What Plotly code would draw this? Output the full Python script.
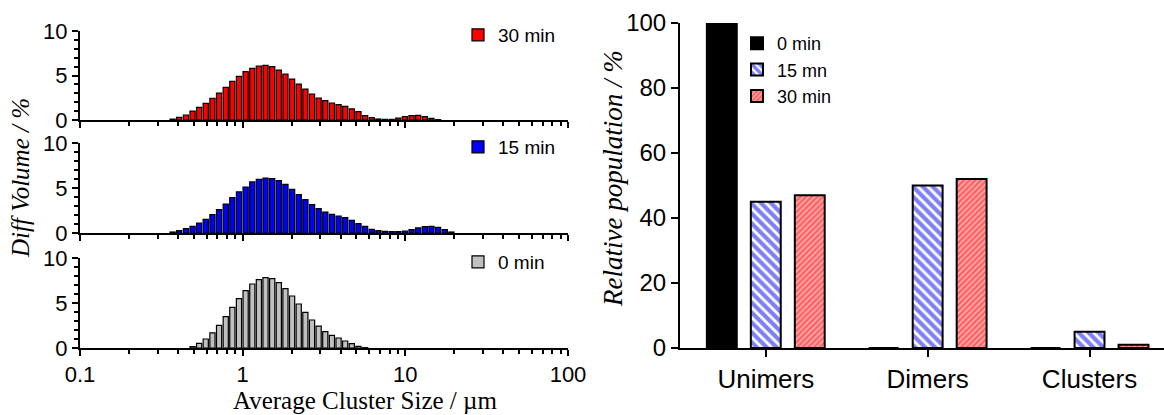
import numpy as np
import plotly.graph_objects as go

# ---------------- data ----------------
# particle-size bin centres (µm), shared by the three size distributions
size_um = [0.371, 0.407, 0.448, 0.492, 0.540, 0.593, 0.652, 0.716, 0.787, 0.864,
           0.949, 1.043, 1.146, 1.258, 1.382, 1.519, 1.668, 1.832, 2.013, 2.211,
           2.429, 2.669, 2.931, 3.220, 3.537, 3.886, 4.268, 4.688, 5.150, 5.657,
           6.214, 6.826, 7.499, 8.237, 9.048, 9.940, 10.92, 11.99, 13.18, 14.47,
           15.90, 17.47, 19.19]

vol_30min = [0.10, 0.30, 0.56, 1.00, 1.42, 1.87, 2.43, 3.03, 3.67, 4.34,
             4.90, 5.43, 5.80, 6.07, 6.14, 6.00, 5.60, 5.17, 4.60, 4.04,
             3.48, 2.92, 2.47, 2.17, 1.91, 1.72, 1.54, 1.24, 0.94, 0.49,
             0.26, 0.11, 0.07, 0.07, 0.22, 0.37, 0.49, 0.52, 0.37, 0.19, 0.04]

vol_15min = [0.11, 0.26, 0.48, 0.74, 1.11, 1.52, 2.04, 2.59, 3.22, 3.93,
             4.56, 5.11, 5.67, 5.96, 6.11, 6.04, 5.81, 5.41, 4.85, 4.26,
             3.70, 3.15, 2.70, 2.33, 2.07, 1.89, 1.70, 1.41, 1.04, 0.74,
             0.41, 0.26, 0.19, 0.15, 0.15, 0.22, 0.37, 0.56, 0.70, 0.74,
             0.63, 0.37, 0.11]

vol_0min_start = 3  # first size bin of the 0 min distribution
vol_0min = [0.15, 0.52, 1.00, 1.67, 2.52, 3.48, 4.52, 5.48, 6.37, 7.11,
            7.59, 7.81, 7.70, 7.26, 6.59, 5.78, 4.89, 3.96, 3.11, 2.44,
            1.81, 1.41, 1.11, 0.78, 0.48, 0.19, 0.04]

categories = ["Unimers", "Dimers", "Clusters"]
pop_0min = [100, 0, 0]
pop_15min = [45, 50, 5]
pop_30min = [47, 52, 1]

size_ticks = [0.1, 1, 10, 100]
size_ticktext = ["0.1", "1", "10", "100"]

# ---------------- figure ----------------
W, H = 1164, 415
SANS = "Arial, Liberation Sans, sans-serif"
SERIF = "Times New Roman, Liberation Serif, serif"

log_size = np.log10(size_um)
bin_step = float(np.mean(np.diff(log_size)))
bar_w = bin_step * 0.78

fig = go.Figure()

left_specs = [
    ("30 min", vol_30min, 0, "#ff0000", "x", "y", "legend"),
    ("15 min", vol_15min, 0, "#0000ff", "x2", "y2", "legend2"),
    ("0 min", vol_0min, vol_0min_start, "#c0c0c0", "x3", "y3", "legend3"),
]
for name, vals, start, col, xa, ya, lg in left_specs:
    xs = log_size[start:start + len(vals)]
    fig.add_trace(go.Bar(
        x=xs, y=vals, width=bar_w, name=name, xaxis=xa, yaxis=ya, legend=lg,
        marker=dict(color=col, line=dict(color="black", width=1.2)),
        showlegend=True,
    ))

fig.add_trace(go.Bar(
    x=categories, y=pop_0min, name="0 min", xaxis="x4", yaxis="y4", legend="legend4",
    marker=dict(color="black", line=dict(color="black", width=2)),
))
fig.add_trace(go.Bar(
    x=categories, y=pop_15min, name="15 mn", xaxis="x4", yaxis="y4", legend="legend4",
    marker=dict(color="#0000ff", line=dict(color="black", width=2),
                pattern=dict(shape="\\", fgcolor="#0000ee", bgcolor="white",
                             size=7, solidity=0.6)),
))
fig.add_trace(go.Bar(
    x=categories, y=pop_30min, name="30 min", xaxis="x4", yaxis="y4", legend="legend4",
    marker=dict(color="#ff0000", line=dict(color="black", width=2),
                pattern=dict(shape="/", fgcolor="#ff1010", bgcolor="#ffb0b0",
                             size=4, solidity=0.6)),
))

minor_vals = [float(np.log10(m * 10.0 ** e)) for e in (-1, 0, 1) for m in range(2, 10)]

def left_x(anchor, labels):
    return dict(
        domain=[80 / W, 568 / W], anchor=anchor, range=[-1, 2],
        tickmode="array", tickvals=list(np.log10(size_ticks)), ticktext=size_ticktext,
        showticklabels=labels, ticks="outside", ticklen=6, tickwidth=2, tickcolor="black",
        showline=True, linecolor="black", linewidth=2, showgrid=False, zeroline=False,
        minor=dict(tickmode="array", tickvals=minor_vals, ticks="outside",
                   ticklen=4, tickwidth=1.5, tickcolor="black", showgrid=False),
        tickfont=dict(family=SANS, size=22, color="black"), automargin=False,
    )

def left_y(anchor, top_px, bot_px):
    return dict(
        domain=[1 - bot_px / H, 1 - top_px / H], anchor=anchor, range=[0, 10],
        tickmode="array", tickvals=[0, 5, 10], ticks="outside", ticklen=6, tickwidth=2,
        tickcolor="black", showline=True, linecolor="black", linewidth=2,
        showgrid=False, zeroline=False,
        minor=dict(tickmode="array", tickvals=[1, 2, 3, 4, 6, 7, 8, 9], ticks="outside",
                   ticklen=4, tickwidth=1.5, tickcolor="black", showgrid=False),
        tickfont=dict(family=SANS, size=22, color="black"), automargin=False,
    )

legend_common = dict(
    xanchor="left", yanchor="top", bgcolor="rgba(0,0,0,0)",
    font=dict(family=SANS, size=19, color="black"), borderwidth=0,
)

fig.update_layout(
    width=W, height=H,
    margin=dict(l=0, r=0, t=0, b=0),
    paper_bgcolor="white", plot_bgcolor="white",
    barmode="group", bargap=0.185, bargroupgap=0.32,
    xaxis=left_x("y", False),
    yaxis=left_y("x", 31, 120),
    xaxis2=left_x("y2", False),
    yaxis2=left_y("x2", 143, 233),
    xaxis3=left_x("y3", True),
    yaxis3=left_y("x3", 258, 348),
    xaxis4=dict(
        domain=[680 / W, 1.0], anchor="y4", type="category", range=[-0.53, 2.46],
        ticks="outside", ticklen=7, tickwidth=2, tickcolor="black",
        showline=True, linecolor="black", linewidth=2, showgrid=False,
        tickfont=dict(family=SANS, size=26, color="black"), automargin=False,
    ),
    yaxis4=dict(
        domain=[1 - 348 / H, 1 - 23 / H], anchor="x4", range=[0, 100],
        tickmode="array", tickvals=[0, 20, 40, 60, 80, 100],
        ticks="outside", ticklen=7, tickwidth=2, tickcolor="black",
        showline=True, linecolor="black", linewidth=2, showgrid=False, zeroline=False,
        tickfont=dict(family=SANS, size=24, color="black"), automargin=False,
    ),
    legend=dict(x=458 / W, y=1 - 16 / H, **legend_common),
    legend2=dict(x=458 / W, y=1 - 128 / H, **legend_common),
    legend3=dict(x=458 / W, y=1 - 243 / H, **legend_common),
    legend4=dict(x=737 / W, y=1 - 25 / H, traceorder="normal",
                 **{**legend_common, "font": dict(family=SANS, size=18, color="black")}),
    annotations=[
        dict(text="Average Cluster Size / µm", x=365 / W, y=1 - 400 / H,
             xref="paper", yref="paper", showarrow=False, xanchor="center", yanchor="middle",
             font=dict(family=SERIF, size=25, color="black")),
        dict(text="<i>Diff Volume / %</i>", x=20 / W, y=1 - 178 / H,
             xref="paper", yref="paper", showarrow=False, textangle=-90,
             xanchor="center", yanchor="middle",
             font=dict(family=SERIF, size=25, color="black")),
        dict(text="<i>Relative population / %</i>", x=613 / W, y=1 - 179 / H,
             xref="paper", yref="paper", showarrow=False, textangle=-90,
             xanchor="center", yanchor="middle",
             font=dict(family=SERIF, size=27, color="black")),
    ],
)

fig.write_html("out.html")
